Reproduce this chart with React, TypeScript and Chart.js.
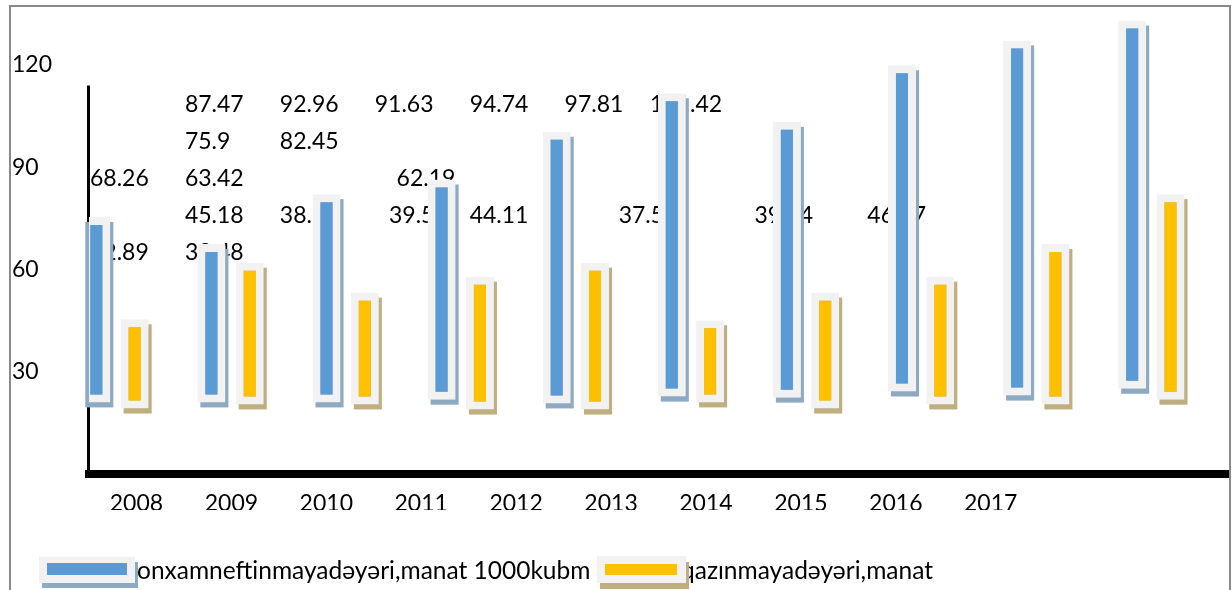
import React, { useEffect, useRef } from 'react';
import { Chart, registerables } from 'chart.js';

Chart.register(...registerables);

// ---- data ----
const years = [2008, 2009, 2010, 2011, 2012, 2013, 2014, 2015, 2016, 2017];
const yearTickLabels = ['2008', '2009', '2010', '2011', '2012', '2013', '2014', '2015', '2016', '2017', '', ''];
const oilBarLow = [21.0, 21.0, 21.0, 21.8, 20.7, 22.7, 22.4, 24.2, 23.0, 25.0];
const oilBarHigh = [75.4, 67.5, 82.1, 86.4, 100.4, 111.7, 103.3, 119.9, 127.2, 133.0];
const gasBarLow = [19.2, 20.4, 20.4, 18.9, 18.9, 21.0, 19.2, 20.4, 20.4, 21.8];
const gasBarHigh = [45.4, 62.0, 53.2, 57.9, 62.0, 45.1, 53.2, 57.9, 67.5, 82.1];
const oilCost = [68.26, 63.42, 75.9, 82.45, 87.47, 92.96, 91.63, 94.74, 97.81, 101.42];
const gasCost = [32.89, 33.48, 45.18, 38.58, 39.5, 44.11, 37.56, 39.64, 46.57, 62.19];
const yTicks = [30, 60, 90, 120];
const seriesNames = ['1 ton xam neftin maya dəyəri, manat', '1000 kubm qazın maya dəyəri, manat'];
const legendTexts = ['onxamneftinmayadəyəri,manat 1000kubm', 'qazınmayadəyəri,manat'];

// ---- layout of the (displaced) value labels: text slot and row ----
const oilLabelSlot = [0, 1, 1, 2, 1, 2, 3, 4, 5, 5.9];
const oilLabelRow = [2, 2, 1, 1, 0, 0, 0, 0, 0, 0];
const gasLabelSlot = [0, 1, 1, 2, 3.15, 4, 5.57, 7, 8.19, 3.23];
const gasLabelRow = [4, 4, 3, 3, 3, 3, 3, 3, 3, 2];

const BLUE = '#5b9bd5';
const YELLOW = '#ffc000';
const BOX = '#f2f2f2';
const BLUE_SHADOW = '#8ea9c2';
const YELLOW_SHADOW = '#bfae80';
const FONT = '23px Lato';
const LEGEND_FONT = '24.5px Lato';

const decorPlugin = {
  id: 'decor',
  beforeDatasetsDraw(chart: any) {
    const ctx = chart.ctx;
    const area = chart.chartArea;
    const x2 = chart.scales.x2;
    const y = chart.scales.y;
    const slotW = x2.width / yearTickLabels.length;
    ctx.save();
    // left frame line
    ctx.strokeStyle = '#000';
    ctx.lineWidth = 3;
    ctx.beginPath();
    ctx.moveTo(area.left - 0.5, y.getPixelForValue(114));
    ctx.lineTo(area.left - 0.5, area.bottom);
    ctx.stroke();
    // value labels
    ctx.font = FONT;
    ctx.fillStyle = '#000';
    ctx.textBaseline = 'middle';
    ctx.textAlign = 'left';
    const rowY = (r: number) => area.top + 90.5 + 37 * r;
    oilCost.forEach((v, i) => {
      const x = x2.getPixelForValue(oilLabelSlot[i]) - slotW / 2 + 1;
      ctx.fillText(String(v), x, rowY(oilLabelRow[i]));
    });
    gasCost.forEach((v, i) => {
      const x = x2.getPixelForValue(gasLabelSlot[i]) - slotW / 2 + 1;
      ctx.fillText(String(v), x, rowY(gasLabelRow[i]));
    });
    // shadows
    const shadowColors = [BLUE_SHADOW, YELLOW_SHADOW];
    chart.data.datasets.forEach((ds: any, di: number) => {
      const meta = chart.getDatasetMeta(di);
      ctx.fillStyle = shadowColors[di];
      meta.data.forEach((el: any) => {
        const p = el.getProps(['x', 'y', 'base', 'width'], true);
        const top = Math.min(p.y, p.base);
        const bot = Math.max(p.y, p.base);
        ctx.fillRect(p.x - p.width / 2 + 3, top + 5, p.width, bot - top);
      });
    });
    ctx.restore();
  },
  afterDraw(chart: any) {
    const ctx = chart.ctx;
    ctx.save();
    ctx.font = LEGEND_FONT;
    ctx.fillStyle = '#000';
    ctx.textBaseline = 'middle';
    ctx.textAlign = 'left';
    ctx.fillText(legendTexts[0], 137, 571);
    ctx.fillText(legendTexts[1], 681, 571);
    // legend symbols
    ctx.fillStyle = BLUE_SHADOW;
    ctx.fillRect(42, 562, 96, 26);
    ctx.fillStyle = BOX;
    ctx.fillRect(39, 557, 96, 26);
    ctx.fillStyle = BLUE;
    ctx.fillRect(47, 563, 80, 12);
    ctx.fillStyle = YELLOW_SHADOW;
    ctx.fillRect(600, 562, 89, 27);
    ctx.fillStyle = BOX;
    ctx.fillRect(597, 556, 89, 27);
    ctx.fillStyle = YELLOW;
    ctx.fillRect(605, 564, 72, 11);
    ctx.restore();
  },
};

export default function App() {
  const ref = useRef<HTMLCanvasElement | null>(null);

  useEffect(() => {
    if (!ref.current) return;
    const barCommon = {
      borderColor: BOX,
      borderWidth: 8,
      borderSkipped: false,
      categoryPercentage: 0.6658,
      barPercentage: 0.732,
      xAxisID: 'x',
      yAxisID: 'y',
    };
    const chart = new Chart(ref.current, {
      type: 'bar',
      data: {
        datasets: [
          {
            ...barCommon,
            label: seriesNames[0],
            backgroundColor: BLUE,
            data: years.map((yr, i) => ({ x: yr, y: [oilBarLow[i], oilBarHigh[i]] })),
          },
          {
            ...barCommon,
            label: seriesNames[1],
            backgroundColor: YELLOW,
            data: years.map((yr, i) => ({ x: yr, y: [gasBarLow[i], gasBarHigh[i]] })),
          },
        ] as any,
      },
      options: {
        animation: false,
        responsive: false,
        maintainAspectRatio: false,
        layout: { padding: { left: 12, right: 4, top: 10, bottom: 80 } },
        plugins: { legend: { display: false }, tooltip: { enabled: false } },
        scales: {
          x: {
            type: 'linear',
            display: false,
            offset: false,
            grid: { offset: false },
            min: 2007.77,
            max: 2017.666,
            ticks: { includeBounds: false, stepSize: 1 },
            afterBuildTicks: (s: any) => {
              s.ticks = years.map((v) => ({ value: v }));
            },
          },
          x2: {
            type: 'category',
            position: 'bottom',
            labels: yearTickLabels,
            grid: { display: false },
            border: { display: true, color: '#000', width: 8 },
            ticks: {
              font: { family: 'Lato', size: 23 },
              color: '#000',
              autoSkip: false,
              maxRotation: 0,
              minRotation: 0,
              padding: 8,
            },
            afterFit: (s: any) => {
              s.height = 36;
            },
          },
          y: {
            type: 'linear',
            min: 0,
            max: 135,
            grid: { display: false },
            border: { display: false },
            afterBuildTicks: (s: any) => {
              s.ticks = yTicks.map((v) => ({ value: v }));
            },
            ticks: {
              font: { family: 'Lato', size: 23 },
              color: '#000',
              crossAlign: 'far',
              padding: 0,
            },
            afterFit: (s: any) => {
              s.width = 77;
            },
          },
        },
      } as any,
      plugins: [decorPlugin],
    });
    return () => chart.destroy();
  }, []);

  return (
    <div
      style={{
        position: 'fixed',
        left: 0,
        top: 0,
        width: 1232,
        height: 590,
        overflow: 'hidden',
        background: '#fff',
      }}
    >
      <div
        style={{
          position: 'absolute',
          left: 9,
          top: 5,
          width: 1222,
          height: 700,
          boxSizing: 'border-box',
          border: '2px solid #898989',
        }}
      />
      <canvas
        ref={ref}
        width={1232}
        height={590}
        style={{ position: 'absolute', left: 0, top: 0, width: 1232, height: 590, display: 'block' }}
      />
    </div>
  );
}
